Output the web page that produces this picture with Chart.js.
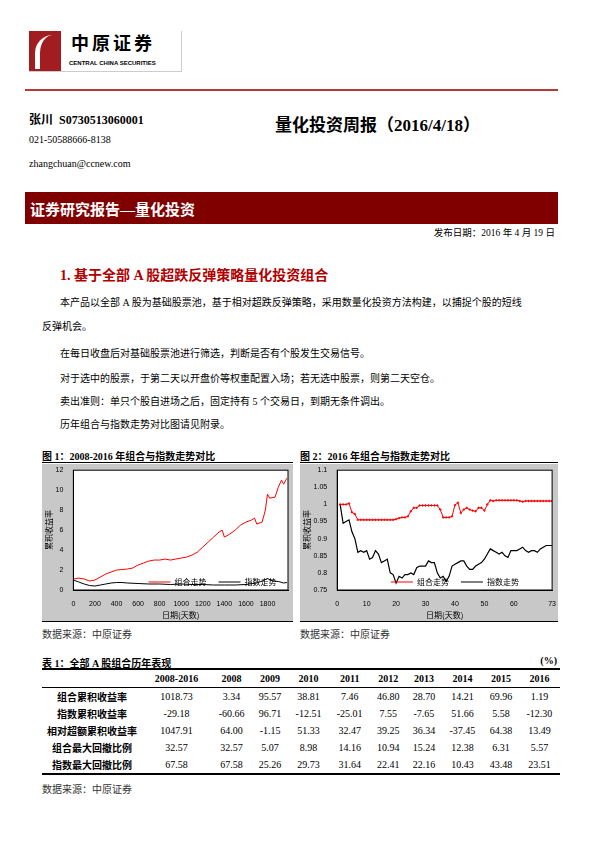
<!DOCTYPE html>
<html><head><meta charset="utf-8">
<script src="https://cdn.jsdelivr.net/npm/chart.js@4/dist/chart.umd.min.js"></script>
<style>
body{margin:0;width:595px;height:842px;position:relative;background:#fff;font-family:"Liberation Serif","Noto Sans CJK SC",serif;color:#000}
.a{position:absolute;white-space:nowrap}
.p{font-size:10px;left:60px}
table{border-collapse:collapse;font-size:10px}
td{text-align:center;padding:0;height:17px}
</style></head><body>
<div class="a" style="left:29px;top:31px;width:152px;height:40px;border:1px solid #ccc;border-left:none;border-top:none">
  <div class="a" style="left:0;top:0;width:32px;height:40px;background:#a11d22"></div>
  <div class="a" style="left:6px;top:4px;width:22px;height:34px;border-left:5px solid #fff;border-radius:18px 0 0 0"></div>
  <div class="a" style="left:42px;top:-2px;font-size:18px;line-height:26px;font-weight:bold;font-family:'Noto Sans CJK SC';letter-spacing:3px">中原证券</div>
  <div class="a" style="left:40px;top:29px;font-size:6px;font-weight:bold;font-family:'Liberation Sans'">CENTRAL CHINA SECURITIES</div>
</div>
<div class="a" style="left:25px;top:89px;width:533px;height:2px;background:#b43a3a"></div>
<div class="a" style="left:29px;top:110px;font-size:12px;font-weight:bold">张川 &nbsp;S0730513060001</div>
<div class="a" style="left:275px;top:111px;font-size:17px;font-weight:bold">量化投资周报（2016/4/18）</div>
<div class="a" style="left:29px;top:134px;font-size:10px">021-50588666-8138</div>
<div class="a" style="left:29px;top:158px;font-size:10px">zhangchuan@ccnew.com</div>
<div class="a" style="left:25px;top:192px;width:533px;height:32px;background:#800000"></div>
<div class="a" style="left:30px;top:198px;font-size:15px;color:#fff;font-weight:bold">证券研究报告—量化投资</div>
<div class="a" style="right:40px;top:225px;font-size:9.5px">发布日期：2016 年 4 月 19 日</div>
<div class="a" style="left:60px;top:264px;font-size:14px;font-weight:bold;color:#b00000">1. 基于全部 A 股超跌反弹策略量化投资组合</div>
<div class="a p" style="top:294px">本产品以全部 A 股为基础股票池，基于相对超跌反弹策略，采用数量化投资方法构建，以捕捉个股的短线</div>
<div class="a" style="left:42px;top:318px;font-size:10px">反弹机会。</div>
<div class="a p" style="top:345px">在每日收盘后对基础股票池进行筛选，判断是否有个股发生交易信号。</div>
<div class="a p" style="top:370px">对于选中的股票，于第二天以开盘价等权重配置入场；若无选中股票，则第二天空仓。</div>
<div class="a p" style="top:393px">卖出准则：单只个股自进场之后，固定持有 5 个交易日，到期无条件调出。</div>
<div class="a p" style="top:416px">历年组合与指数走势对比图请见附录。</div>
<div class="a" style="left:42px;top:448px;font-size:10px;font-weight:bold">图 1：2008-2016 年组合与指数走势对比</div>
<div class="a" style="left:300px;top:448px;font-size:10px;font-weight:bold">图 2：2016 年组合与指数走势对比</div>
<div class="a" style="left:42px;top:462px;width:251px;height:1px;background:#000"></div>
<div class="a" style="left:300px;top:462px;width:258px;height:1px;background:#000"></div>
<div class="a" style="left:42px;top:464px;width:251px;height:157px"><canvas id="c1"></canvas></div>
<div class="a" style="left:300px;top:464px;width:258px;height:157px"><canvas id="c2"></canvas></div>
<div class="a" style="left:42px;top:621px;width:251px;height:1px;background:#000"></div>
<div class="a" style="left:300px;top:621px;width:258px;height:1px;background:#000"></div>
<div class="a" style="left:42px;top:626px;font-size:10px;color:#333">数据来源：中原证券</div>
<div class="a" style="left:300px;top:626px;font-size:10px;color:#333">数据来源：中原证券</div>
<div class="a" style="left:42px;top:655px;font-size:10px;font-weight:bold">表 1：全部 A 股组合历年表现</div>
<div class="a" style="right:38px;top:655px;font-size:10px;font-weight:bold">(%)</div>
<div class="a" style="left:42px;top:668px;width:518px">
<table id="tb" style="width:518px;border-top:2px solid #000;border-bottom:2px solid #000"></table>
</div>
<div class="a" style="left:42px;top:781px;font-size:10px;color:#333">数据来源：中原证券</div>
<script>
// figure 1 (days since start)
const days1 = [0,50,100,150,200,250,300,350,400,450,500,550,600,650,700,750,800,850,900,950,1000,1050,1100,1150,1200,1250,1300,1350,1380,1400,1450,1500,1550,1600,1650,1680,1700,1750,1780,1800,1820,1870,1900,1930,1950,1980];
const port1 = [1.1,1.2,1.1,0.9,1.0,1.3,1.6,1.8,2.0,2.05,2.1,2.2,2.5,2.7,2.9,3.0,3.0,3.1,3.0,3.1,3.2,3.3,3.5,3.8,4.3,4.8,5.3,5.8,6.0,5.3,5.6,6.0,6.5,6.8,7.0,7.2,6.6,6.8,8.0,9.6,9.2,9.3,10.3,11.0,10.6,11.2];
const idxDays1 = [0,50,100,150,200,250,300,350,400,450,500,600,700,800,900,1000,1100,1200,1300,1400,1500,1600,1700,1750,1800,1850,1900,1950,1980];
const index1 = [1.0,0.8,0.6,0.45,0.4,0.5,0.6,0.7,0.75,0.75,0.7,0.65,0.6,0.6,0.55,0.6,0.55,0.55,0.5,0.5,0.5,0.55,0.7,0.9,1.15,0.9,0.85,0.7,0.75];
const xTicks1 = [0,200,400,600,800,1000,1200,1400,1600,1800];
// figure 2 (trading days in 2016)
const days2 = Array.from({length:73},(_,i)=>i+1);
const port2 = [1.0,1.0,1.0,1.003,0.977,0.972,0.955,0.955,0.955,0.955,0.955,0.955,0.955,0.955,0.955,0.955,0.955,0.955,0.955,0.957,0.96,0.962,0.962,0.965,0.98,0.99,0.99,0.997,0.997,0.997,0.997,0.997,0.997,0.997,0.985,0.962,0.962,0.962,0.965,0.998,1.005,0.975,0.985,0.99,0.985,0.982,0.98,0.99,0.99,0.982,1.0,1.012,1.01,1.012,1.012,1.012,1.012,1.012,1.012,1.012,1.012,1.01,1.008,1.01,1.01,1.01,1.01,1.01,1.01,1.01,1.01,1.01,1.01];
const index2 = [1.0,0.945,0.95,0.955,0.92,0.9,0.86,0.865,0.86,0.865,0.84,0.845,0.865,0.855,0.83,0.835,0.84,0.8,0.795,0.77,0.79,0.785,0.795,0.795,0.8,0.795,0.815,0.82,0.82,0.82,0.835,0.83,0.83,0.8,0.785,0.79,0.775,0.79,0.82,0.825,0.83,0.835,0.835,0.82,0.81,0.81,0.82,0.825,0.83,0.84,0.855,0.87,0.865,0.86,0.855,0.86,0.85,0.845,0.865,0.865,0.865,0.87,0.875,0.865,0.86,0.865,0.865,0.86,0.87,0.875,0.88,0.88,0.88];
const xTicks2 = [0,10,20,30,40,50,60,73];
// table
const cols = ["2008-2016","2008","2009","2010","2011","2012","2013","2014","2015","2016"];
const rowNames = ["组合累积收益率","指数累积收益率","相对超额累积收益率","组合最大回撤比例","指数最大回撤比例"];
const rows = [
  ["1018.73","3.34","95.57","38.81","7.46","46.80","28.70","14.21","69.96","1.19"],
  ["-29.18","-60.66","96.71","-12.51","-25.01","7.55","-7.65","51.66","5.58","-12.30"],
  ["1047.91","64.00","-1.15","51.33","32.47","39.25","36.34","-37.45","64.38","13.49"],
  ["32.57","32.57","5.07","8.98","14.16","10.94","15.24","12.38","6.31","5.57"],
  ["67.58","67.58","25.26","29.73","31.64","22.41","22.16","10.43","43.48","23.51"]
];
let h = '<tr style="border-bottom:1px solid #000"><td style="width:100px"></td>' + cols.map(c=>'<td style="font-weight:bold">'+c+'</td>').join('') + '</tr>';
rows.forEach((r,i)=>{ h += '<tr><td style="font-weight:bold">'+rowNames[i]+'</td>' + r.map(v=>'<td>'+v+'</td>').join('') + '</tr>'; });
document.getElementById('tb').innerHTML = h;

const frame = {
  id: 'frame',
  beforeDraw(chart) {
    const {ctx, chartArea: a, width, height} = chart;
    ctx.save();
    ctx.fillStyle = '#c8c8c8';
    ctx.fillRect(0, 0, width, height);
    ctx.fillStyle = '#fff';
    ctx.fillRect(a.left, a.top, a.right - a.left, a.bottom - a.top);
    ctx.restore();
  },
  afterDraw(chart) {
    const {ctx, chartArea: a} = chart;
    const o = chart.options.plugins.frame;
    ctx.save();
    ctx.strokeStyle = '#000'; ctx.lineWidth = 1;
    ctx.strokeRect(a.left, a.top, a.right - a.left, a.bottom - a.top);
    const y = a.bottom - 8, x0 = a.left + (a.right - a.left) * o.lx;
    ctx.font = '8px "Noto Sans CJK SC"'; ctx.textBaseline = 'middle'; ctx.fillStyle = '#000';
    ctx.strokeStyle = 'red'; ctx.beginPath(); ctx.moveTo(x0, y); ctx.lineTo(x0 + 22, y); ctx.stroke();
    ctx.fillText('组合走势', x0 + 26, y);
    const x1 = x0 + 70;
    ctx.strokeStyle = '#000'; ctx.beginPath(); ctx.moveTo(x1, y); ctx.lineTo(x1 + 22, y); ctx.stroke();
    ctx.fillText('指数走势', x1 + 26, y);
    ctx.restore();
  }
};

function axes(xmin, xmax, xTicks, ymin, ymax, ystep) {
  const tk = {color:'#000', font:{size:7, family:'Liberation Sans'}, padding:2};
  return {
    x: {type:'linear', min:xmin, max:xmax, grid:{display:false}, border:{color:'#000'},
        afterBuildTicks:(ax)=>{ ax.ticks = xTicks.map(v=>({value:v})); },
        ticks:{...tk, maxRotation:0, autoSkip:false, callback:(v)=>String(v)},
        title:{display:true, text:'日期(天数)', color:'#000', font:{size:8, family:'Noto Sans CJK SC'}, padding:0}},
    y: {min:ymin, max:ymax, grid:{display:false}, border:{color:'#000'},
        ticks:{...tk, stepSize:ystep, callback:(v)=>String(+v.toFixed(2))},
        title:{display:true, text:'累积收益率', color:'#000', font:{size:8, family:'Noto Sans CJK SC'}, padding:0}}
  };
}

new Chart(document.getElementById('c1'), {
  type: 'line',
  data: { datasets: [
    {data: days1.map((d,i)=>({x:d, y:port1[i]})), borderColor:'red', borderWidth:1, pointRadius:0},
    {data: idxDays1.map((d,i)=>({x:d, y:index1[i]})), borderColor:'#000', borderWidth:1, pointRadius:0}
  ]},
  options: { animation:false, responsive:true, maintainAspectRatio:false,
    layout:{padding:{top:6,right:5,left:2,bottom:1}},
    plugins:{legend:{display:false}, tooltip:{enabled:false}, frame:{lx:0.35}},
    scales: axes(0, 1990, xTicks1, 0, 12, 2) },
  plugins:[frame]
});

new Chart(document.getElementById('c2'), {
  type: 'line',
  data: { datasets: [
    {data: days2.map((d,i)=>({x:d, y:port2[i]})), borderColor:'red', borderWidth:1, pointRadius:1.2, pointStyle:'cross', pointBorderColor:'red'},
    {data: days2.map((d,i)=>({x:d, y:index2[i]})), borderColor:'#000', borderWidth:1.2, pointRadius:0}
  ]},
  options: { animation:false, responsive:true, maintainAspectRatio:false,
    layout:{padding:{top:6,right:4,left:2,bottom:1}},
    plugins:{legend:{display:false}, tooltip:{enabled:false}, frame:{lx:0.25}},
    scales: axes(0, 73, xTicks2, 0.75, 1.1, 0.05) },
  plugins:[frame]
});
</script>
</body></html>
